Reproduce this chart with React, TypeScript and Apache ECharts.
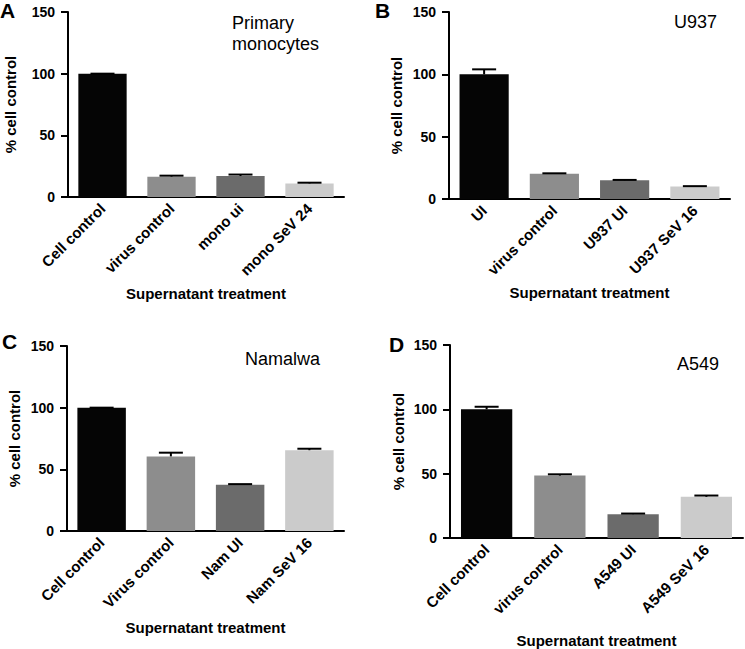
import React, { useEffect, useRef } from "react";
import * as echarts from "echarts";

const FONT = "'Liberation Sans', Arial, Helvetica, sans-serif";

const categoriesA = ["Cell control", "virus control", "mono ui", "mono SeV 24"];
const valuesA = [100, 16.5, 17, 11];
const errorsA = [0, 0.8, 1.2, 0.6];

const categoriesB = ["UI", "virus control", "U937 UI", "U937 SeV 16"];
const valuesB = [100, 20.3, 15, 10];
const errorsB = [4, 0.3, 0.3, 0.3];

const categoriesC = ["Cell control", "Virus control", "Nam UI", "Nam SeV 16"];
const valuesC = [100, 60.5, 37.5, 65.5];
const errorsC = [0, 3, 0.5, 1.2];

const categoriesD = ["Cell control", "virus control", "A549 UI", "A549 SeV 16"];
const valuesD = [100, 48.5, 18.5, 32];
const errorsD = [2, 1, 0.5, 1];

const yTicks = { min: 0, max: 150, interval: 50 };
const barColors = ["#050505", "#8d8d8d", "#6b6b6b", "#cbcbcb"];
const yAxisTitle = "% cell control";
const xAxisTitle = "Supernatant treatment";

const panels = [
  { letter: "A", label: "Primary\nmonocytes", cats: categoriesA, vals: valuesA, errs: errorsA },
  { letter: "B", label: "U937", cats: categoriesB, vals: valuesB, errs: errorsB },
  { letter: "C", label: "Namalwa", cats: categoriesC, vals: valuesC, errs: errorsC },
  { letter: "D", label: "A549", cats: categoriesD, vals: valuesD, errs: errorsD },
];

// layout (pixels)
const grids = [
  { left: 68, top: 12, width: 276, height: 185 },
  { left: 449, top: 12, width: 281, height: 187 },
  { left: 67, top: 346, width: 277, height: 185 },
  { left: 450, top: 345, width: 293, height: 195 },
];
const xNameGaps = [89, 86, 89, 95];
const yNameGaps = [50, 45, 45, 44];

export default function App() {
  const ref = useRef<HTMLDivElement>(null);
  useEffect(() => {
    if (!ref.current) return;
    const chart = echarts.init(ref.current, null, { renderer: "svg" });

    const xAxis = panels.map((p, i) => ({
      type: "category",
      gridIndex: i,
      data: p.cats,
      name: xAxisTitle,
      nameLocation: "middle",
      nameGap: xNameGaps[i],
      nameTextStyle: { fontFamily: FONT, fontWeight: "bold", fontSize: 15, color: "#000" },
      axisLine: { lineStyle: { color: "#000", width: 2 } },
      axisTick: { alignWithLabel: true, length: 6, lineStyle: { color: "#000", width: 2 } },
      axisLabel: {
        interval: 0,
        rotate: 45,
        margin: 9,
        fontFamily: FONT,
        fontWeight: "bold",
        fontSize: 15,
        color: "#000",
      },
      splitLine: { show: false },
    }));

    const yAxis = panels.map((p, i) => ({
      type: "value",
      gridIndex: i,
      min: yTicks.min,
      max: yTicks.max,
      interval: yTicks.interval,
      name: yAxisTitle,
      nameLocation: "middle",
      nameGap: yNameGaps[i],
      nameTextStyle: { fontFamily: FONT, fontWeight: "bold", fontSize: 15, color: "#000" },
      axisLine: { show: true, lineStyle: { color: "#000", width: 2 } },
      axisTick: { show: true, length: 7, lineStyle: { color: "#000", width: 2 } },
      axisLabel: { margin: 13, fontFamily: FONT, fontWeight: "bold", fontSize: 14, color: "#000" },
      splitLine: { show: false },
    }));

    const series: any[] = [];
    panels.forEach((p, i) => {
      series.push({
        type: "bar",
        xAxisIndex: i,
        yAxisIndex: i,
        barWidth: "70%",
        data: p.vals.map((v, j) => ({ value: v, itemStyle: { color: barColors[j] } })),
      });
      series.push({
        type: "custom",
        xAxisIndex: i,
        yAxisIndex: i,
        z: 5,
        data: p.vals.map((v, j) => [j, v, p.errs[j]]),
        renderItem: (params: any, api: any) => {
          const x = api.value(0);
          const v = api.value(1);
          const e = api.value(2);
          const base = api.coord([x, v]);
          const top = api.coord([x, v + e]);
          return {
            type: "group",
            children: [
              {
                type: "line",
                shape: { x1: base[0], y1: base[1], x2: top[0], y2: top[1] },
                style: { stroke: "#000", lineWidth: 2 },
              },
              {
                type: "line",
                shape: { x1: top[0] - 12, y1: top[1], x2: top[0] + 12, y2: top[1] },
                style: { stroke: "#000", lineWidth: 2 },
              },
            ],
          };
        },
      });
    });

    const textStyle = (size: number, weight: string) => ({
      fontFamily: FONT,
      fontSize: size,
      fontWeight: weight,
      fill: "#000",
    });

    const graphic: any[] = [
      { type: "text", left: 0, top: 0, style: { ...textStyle(21, "bold"), text: panels[0].letter } },
      { type: "text", left: 375, top: 0, style: { ...textStyle(21, "bold"), text: panels[1].letter } },
      { type: "text", left: 2, top: 331, style: { ...textStyle(21, "bold"), text: panels[2].letter } },
      { type: "text", left: 389, top: 334, style: { ...textStyle(21, "bold"), text: panels[3].letter } },
      {
        type: "text",
        left: 232,
        top: 12,
        style: { ...textStyle(18, "normal"), text: panels[0].label, lineHeight: 21 },
      },
      { type: "text", right: 28, top: 13, style: { ...textStyle(18, "normal"), text: panels[1].label } },
      { type: "text", left: 245, top: 350, style: { ...textStyle(18, "normal"), text: panels[2].label } },
      { type: "text", left: 677, top: 355, style: { ...textStyle(18, "normal"), text: panels[3].label } },
    ];

    chart.setOption({
      animation: false,
      backgroundColor: "#fff",
      grid: grids.map((g) => ({ ...g, containLabel: false })),
      xAxis,
      yAxis,
      series,
      graphic,
    });
    return () => chart.dispose();
  }, []);

  return (
    <div
      ref={ref}
      style={{ position: "absolute", left: 0, top: 0, width: 745, height: 649, background: "#fff" }}
    />
  );
}
